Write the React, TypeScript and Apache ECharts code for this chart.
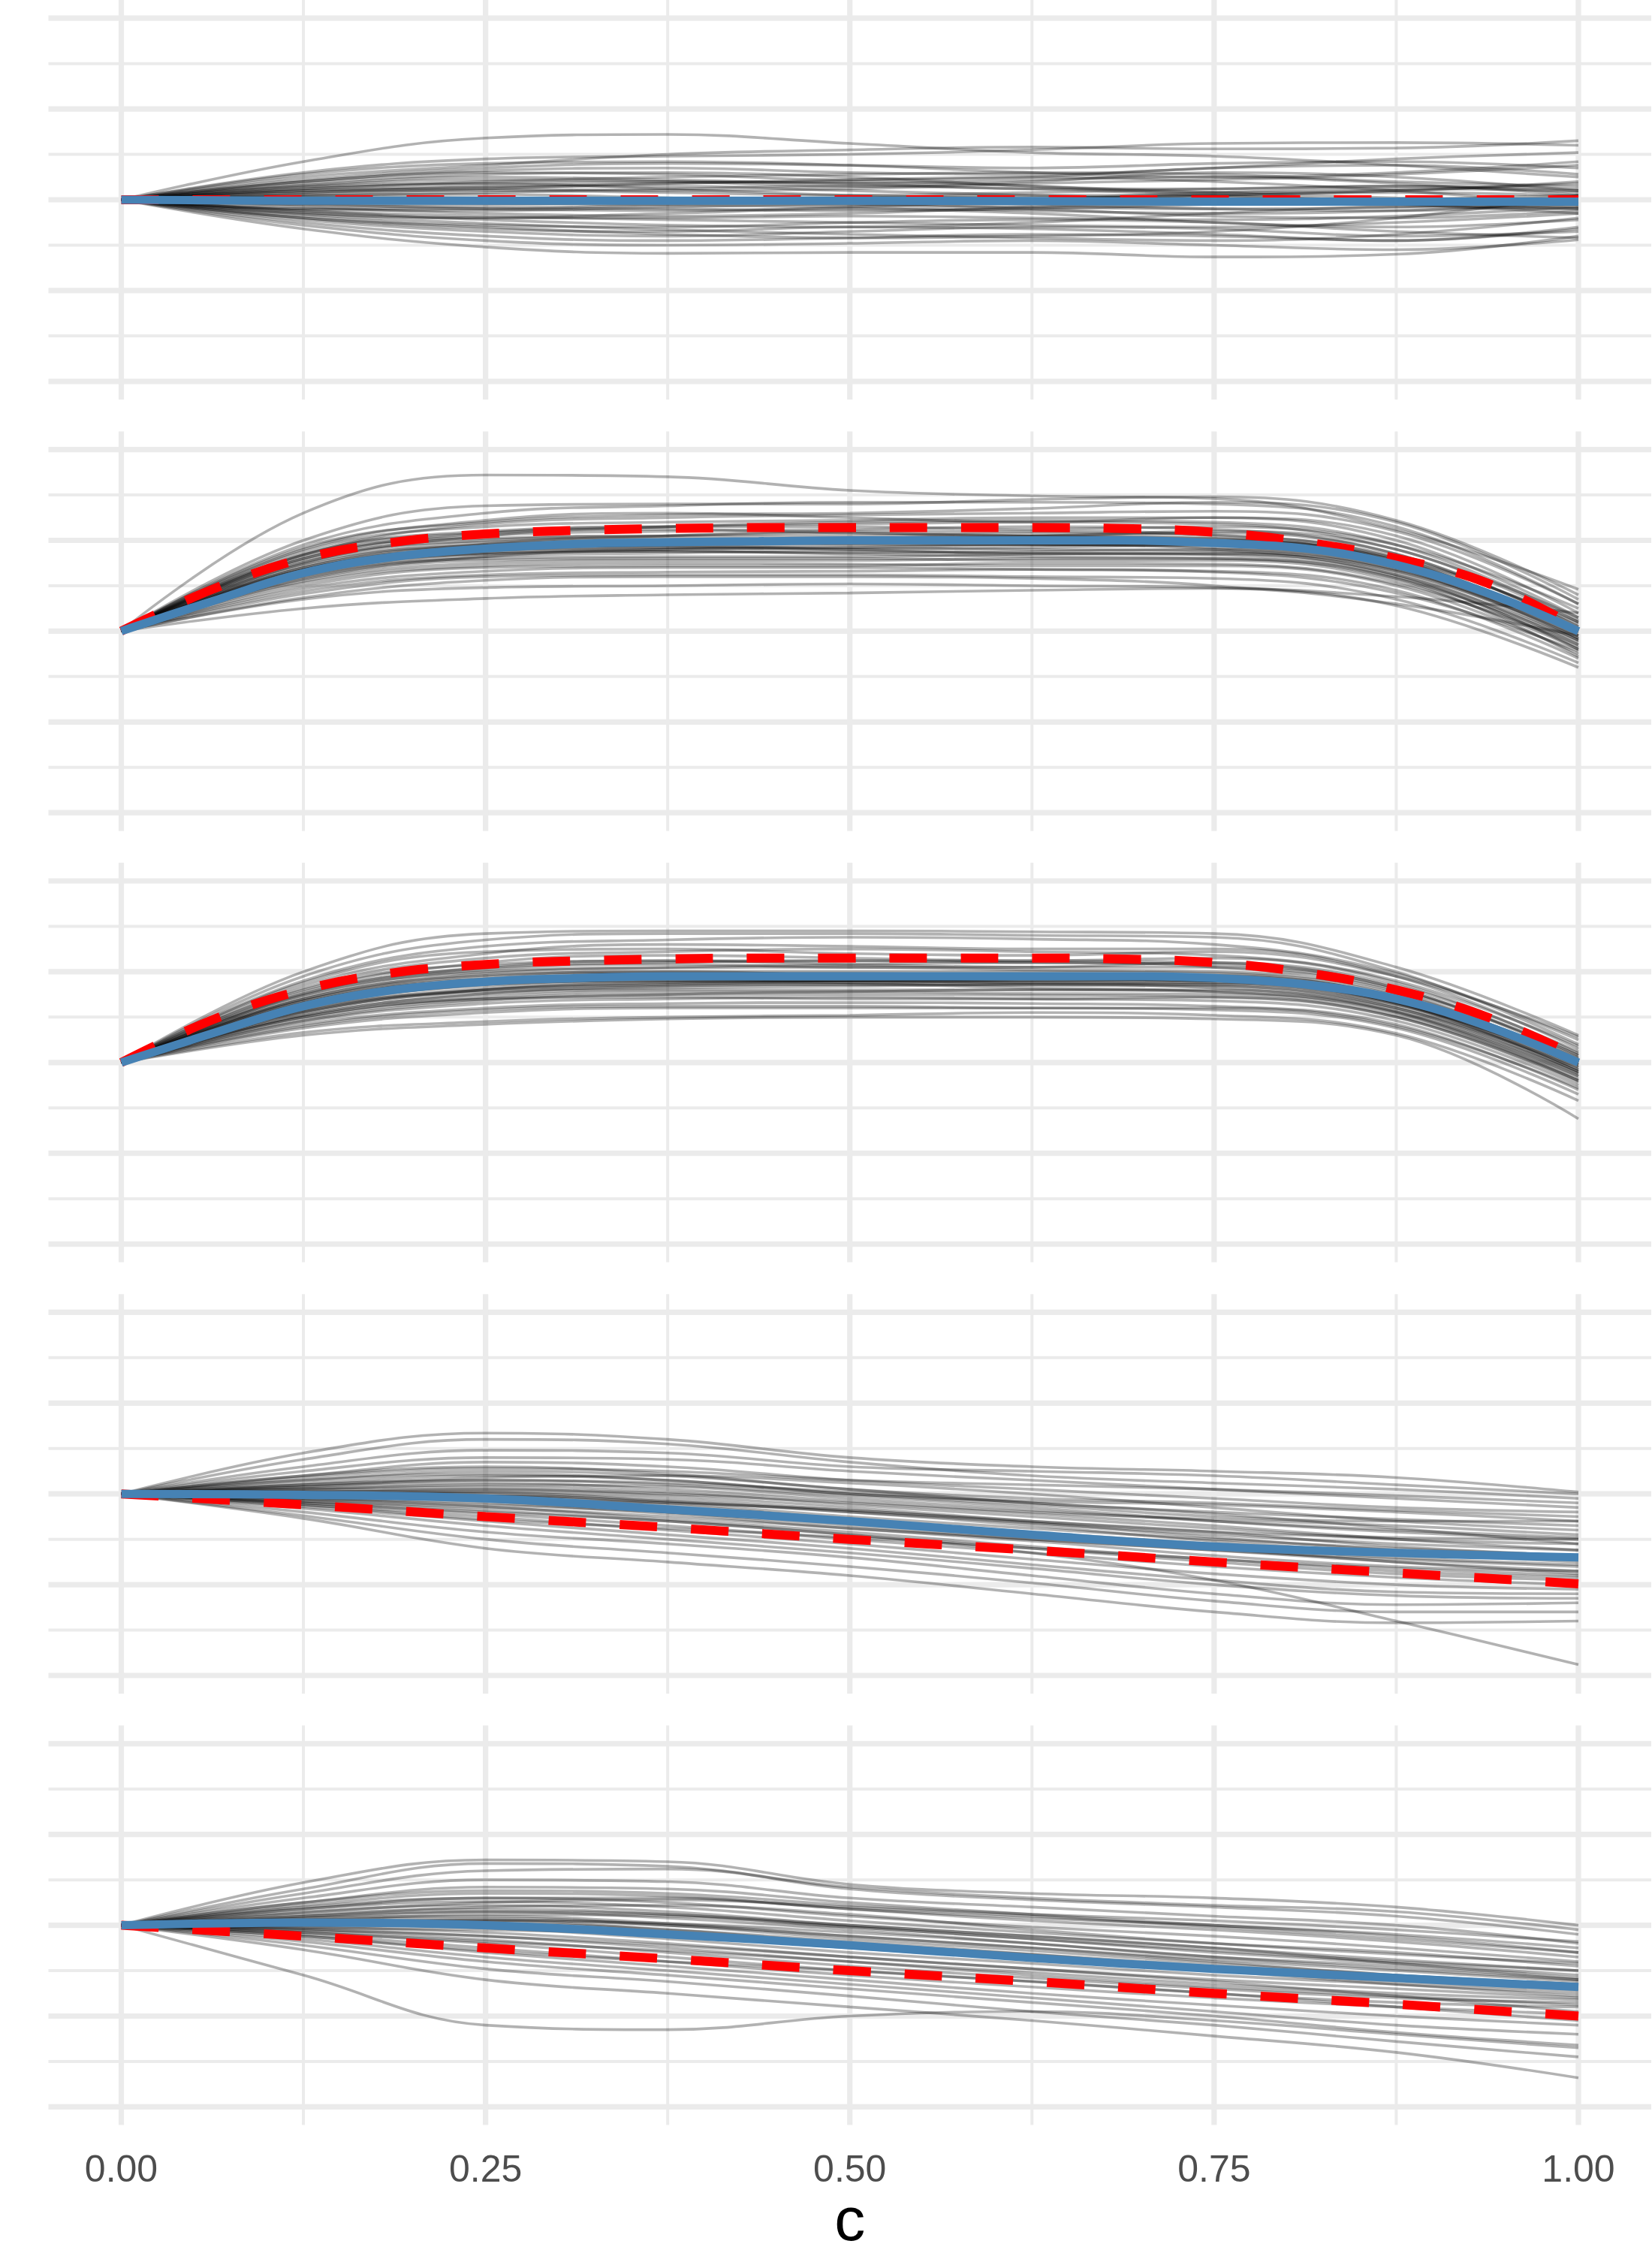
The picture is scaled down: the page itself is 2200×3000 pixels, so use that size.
import React, { useEffect, useRef } from "react";
import * as echarts from "echarts";

// x positions of sampled values
const xs9 = [0, 0.125, 0.25, 0.375, 0.5, 0.625, 0.75, 0.875, 1];
const xs17 = [0, 0.0625, 0.125, 0.1875, 0.25, 0.3125, 0.375, 0.4375, 0.5, 0.5625, 0.625, 0.6875, 0.75, 0.8125, 0.875, 0.9375, 1];

// gridline / tick positions
const xMajor = [0, 0.25, 0.5, 0.75, 1];
const xMinor = [0.125, 0.375, 0.625, 0.875];
const yMajor = [-2, -1, 0, 1, 2];
const yMinor = [-1.5, -0.5, 0.5, 1.5];
const xTickLabels = ["0.00", "0.25", "0.50", "0.75", "1.00"];
const xTitle = "c";

// ---------- panel 1 ----------
const p1Blue = [0, -0.01, -0.01, -0.01, -0.01, -0.015, -0.02, -0.02, -0.02];
const p1Red = [0, 0, 0, 0, 0, 0, 0, 0, 0];
const p1Gray = [
  [0, 0.42, 0.68, 0.72, 0.62, 0.52, 0.48, 0.38, 0.25],
  [0, -0.32, -0.52, -0.59, -0.58, -0.58, -0.63, -0.6, -0.4],
  [0, 0.3, 0.45, 0.48, 0.5, 0.55, 0.62, 0.63, 0.6],
  [0, 0.25, 0.38, 0.5, 0.55, 0.58, 0.56, 0.57, 0.65],
  [0, -0.28, -0.45, -0.5, -0.48, -0.45, -0.5, -0.55, -0.44],
  [0, 0.2, 0.32, 0.35, 0.3, 0.28, 0.35, 0.45, 0.52],
  [0, -0.2, -0.3, -0.38, -0.42, -0.4, -0.35, -0.2, 0.05],
  [0, 0.15, 0.22, 0.2, 0.15, 0.2, 0.3, 0.25, 0.1],
  [0, -0.15, -0.2, -0.15, -0.1, -0.15, -0.25, -0.3, -0.22],
  [0, 0.1, 0.15, 0.18, 0.22, 0.25, 0.2, 0.1, -0.05],
  [0, -0.1, -0.12, -0.08, -0.05, -0.1, -0.18, -0.2, -0.12],
  [0, 0.18, 0.28, 0.3, 0.25, 0.15, 0.08, 0.1, 0.2],
  [0, -0.22, -0.35, -0.4, -0.35, -0.3, -0.32, -0.4, -0.35],
  [0, 0.08, 0.1, 0.08, 0.05, 0.08, 0.12, 0.15, 0.12],
  [0, -0.06, -0.08, -0.1, -0.12, -0.1, -0.05, 0.0, 0.05],
  [0, 0.12, 0.2, 0.25, 0.28, 0.3, 0.28, 0.2, 0.15],
  [0, -0.12, -0.18, -0.22, -0.25, -0.28, -0.3, -0.25, -0.15],
  [0, 0.05, 0.06, 0.02, -0.02, 0.0, 0.05, 0.08, 0.04],
  [0, -0.04, -0.05, -0.02, 0.02, 0.05, 0.04, -0.02, -0.08],
  [0, 0.22, 0.35, 0.4, 0.38, 0.35, 0.4, 0.42, 0.35],
  [0, -0.18, -0.28, -0.3, -0.25, -0.22, -0.25, -0.35, -0.42],
  [0, 0.14, 0.18, 0.12, 0.05, 0.02, 0.05, 0.1, 0.18],
  [0, -0.14, -0.22, -0.28, -0.3, -0.25, -0.15, -0.08, -0.1],
  [0, 0.06, 0.12, 0.18, 0.2, 0.15, 0.08, 0.02, -0.02],
  [0, -0.08, -0.15, -0.18, -0.15, -0.08, -0.02, -0.05, -0.15],
  [0, 0.16, 0.25, 0.22, 0.18, 0.22, 0.25, 0.18, 0.05],
  [0, -0.25, -0.4, -0.45, -0.42, -0.38, -0.4, -0.45, -0.3],
  [0, 0.1, 0.12, 0.1, 0.12, 0.18, 0.22, 0.28, 0.38],
  [0, -0.1, -0.1, -0.05, -0.02, -0.05, -0.1, -0.12, -0.05],
  [0, 0.03, 0.02, -0.02, -0.05, -0.08, -0.1, -0.08, 0.0],
  [0, 0.28, 0.4, 0.42, 0.38, 0.3, 0.25, 0.3, 0.42],
  [0, -0.16, -0.26, -0.33, -0.38, -0.42, -0.45, -0.38, -0.2],
  [0, 0.08, 0.14, 0.15, 0.1, 0.05, 0.0, -0.05, -0.1],
  [0, -0.05, -0.1, -0.12, -0.08, 0.0, 0.08, 0.12, 0.1],
  [0, 0.12, 0.18, 0.2, 0.18, 0.12, 0.12, 0.15, 0.08],
  [0, -0.12, -0.2, -0.2, -0.18, -0.2, -0.22, -0.18, -0.08],
  [0, 0.2, 0.3, 0.28, 0.22, 0.25, 0.35, 0.38, 0.28],
  [0, -0.2, -0.32, -0.35, -0.3, -0.32, -0.38, -0.45, -0.32],
  [0, 0.04, 0.08, 0.12, 0.15, 0.12, 0.05, 0.0, 0.02],
  [0, -0.02, -0.04, -0.06, -0.08, -0.12, -0.15, -0.12, -0.02],
];

// ---------- panel 2 ----------
const p2Blue = [0, 0.33, 0.64, 0.82, 0.91, 0.96, 0.98, 0.99, 1.0, 1.0, 1.0, 1.0, 0.97, 0.91, 0.73, 0.42, 0.0];
const p2Red = [0, 0.46, 0.8, 0.98, 1.07, 1.11, 1.13, 1.14, 1.14, 1.14, 1.14, 1.13, 1.09, 0.98, 0.8, 0.53, 0.03];
const p2Gray = [
  [0, 1.3, 1.72, 1.7, 1.55, 1.49, 1.46, 1.12, 0.46],
  [0, 0.25, 0.36, 0.4, 0.42, 0.45, 0.47, 0.38, 0.2],
  [0, 0.35, 0.48, 0.5, 0.52, 0.5, 0.48, 0.3, -0.05],
  [0, 1.0, 1.38, 1.4, 1.4, 1.45, 1.48, 1.22, 0.4],
  [0, 0.95, 1.3, 1.38, 1.42, 1.42, 1.4, 1.15, 0.3],
  [0, 0.92, 1.2, 1.28, 1.3, 1.35, 1.42, 1.2, 0.35],
  [0, 0.9, 1.22, 1.3, 1.25, 1.2, 1.25, 1.05, 0.2],
  [0, 0.88, 1.15, 1.2, 1.22, 1.25, 1.25, 1.0, 0.15],
  [0, 0.85, 1.1, 1.15, 1.15, 1.12, 1.15, 0.95, 0.25],
  [0, 0.84, 1.08, 1.12, 1.08, 1.05, 1.1, 0.9, 0.1],
  [0, 0.82, 1.05, 1.1, 1.12, 1.15, 1.12, 0.85, 0.05],
  [0, 0.8, 1.02, 1.05, 1.05, 1.08, 1.05, 0.82, 0.08],
  [0, 0.78, 1.0, 1.05, 1.08, 1.05, 1.02, 0.78, 0.0],
  [0, 0.76, 0.98, 1.02, 1.02, 1.0, 1.0, 0.78, 0.02],
  [0, 0.74, 0.95, 1.0, 1.02, 1.04, 1.02, 0.76, -0.05],
  [0, 0.72, 0.95, 0.98, 0.96, 0.95, 0.98, 0.8, 0.1],
  [0, 0.7, 0.92, 0.96, 0.98, 1.0, 0.96, 0.7, -0.08],
  [0, 0.68, 0.9, 0.95, 0.98, 0.96, 0.92, 0.68, -0.1],
  [0, 0.68, 0.9, 0.92, 0.9, 0.92, 0.95, 0.72, 0.0],
  [0, 0.66, 0.88, 0.92, 0.95, 0.95, 0.9, 0.65, -0.15],
  [0, 0.65, 0.86, 0.9, 0.92, 0.9, 0.88, 0.66, -0.05],
  [0, 0.63, 0.85, 0.88, 0.86, 0.88, 0.9, 0.68, -0.02],
  [0, 0.61, 0.82, 0.86, 0.88, 0.86, 0.84, 0.6, -0.18],
  [0, 0.6, 0.8, 0.82, 0.82, 0.85, 0.86, 0.62, -0.1],
  [0, 0.57, 0.78, 0.8, 0.8, 0.78, 0.78, 0.55, -0.2],
  [0, 0.55, 0.75, 0.78, 0.78, 0.8, 0.8, 0.58, -0.12],
  [0, 0.53, 0.72, 0.75, 0.74, 0.72, 0.72, 0.5, -0.25],
  [0, 0.5, 0.7, 0.72, 0.72, 0.75, 0.74, 0.52, -0.15],
  [0, 0.47, 0.66, 0.7, 0.7, 0.68, 0.66, 0.45, -0.3],
  [0, 0.44, 0.62, 0.65, 0.66, 0.68, 0.65, 0.42, -0.22],
  [0, 0.41, 0.6, 0.62, 0.62, 0.6, 0.58, 0.35, -0.35],
  [0, 0.37, 0.56, 0.6, 0.6, 0.58, 0.5, 0.28, -0.4],
  [0, 0.84, 1.18, 1.25, 1.28, 1.3, 1.32, 1.1, 0.3],
  [0, 0.75, 1.05, 1.15, 1.2, 1.22, 1.2, 0.95, 0.12],
  [0, 0.64, 0.9, 0.98, 1.02, 1.05, 1.08, 0.85, 0.05],
  [0, 0.58, 0.82, 0.9, 0.92, 0.95, 0.95, 0.72, -0.08],
  [0, 0.7, 0.96, 1.05, 1.1, 1.1, 1.06, 0.8, 0.0],
  [0, 0.66, 0.9, 0.94, 0.9, 0.85, 0.85, 0.62, -0.2],
  [0, 0.8, 1.08, 1.15, 1.18, 1.2, 1.18, 0.9, 0.15],
  [0, 0.62, 0.85, 0.88, 0.85, 0.82, 0.8, 0.58, -0.28],
];

// ---------- panel 3 ----------
const p3Blue = [0, 0.32, 0.62, 0.8, 0.89, 0.93, 0.95, 0.95, 0.95, 0.95, 0.95, 0.95, 0.93, 0.86, 0.7, 0.4, 0.0];
const p3Red = [0, 0.47, 0.8, 0.99, 1.08, 1.12, 1.14, 1.15, 1.15, 1.15, 1.15, 1.14, 1.1, 0.99, 0.8, 0.5, 0.06];
const p3Gray = [
  [0, 1.0, 1.42, 1.45, 1.45, 1.44, 1.42, 1.05, 0.3],
  [0, 0.95, 1.35, 1.42, 1.42, 1.4, 1.38, 1.0, 0.2],
  [0, 0.9, 1.28, 1.35, 1.38, 1.36, 1.3, 0.98, 0.25],
  [0, 0.85, 1.2, 1.3, 1.28, 1.25, 1.25, 0.95, 0.15],
  [0, 0.82, 1.15, 1.22, 1.25, 1.22, 1.18, 0.9, 0.18],
  [0, 0.78, 1.1, 1.18, 1.15, 1.12, 1.15, 0.88, 0.1],
  [0, 0.75, 1.05, 1.12, 1.12, 1.1, 1.08, 0.82, 0.05],
  [0, 0.72, 1.02, 1.08, 1.05, 1.05, 1.05, 0.8, 0.08],
  [0, 0.7, 0.98, 1.04, 1.05, 1.02, 1.0, 0.76, 0.02],
  [0, 0.68, 0.95, 1.0, 1.0, 1.0, 0.98, 0.74, 0.0],
  [0, 0.66, 0.92, 0.98, 0.98, 0.96, 0.95, 0.72, -0.02],
  [0, 0.64, 0.9, 0.96, 0.95, 0.95, 0.94, 0.7, 0.02],
  [0, 0.62, 0.88, 0.94, 0.95, 0.94, 0.92, 0.68, -0.05],
  [0, 0.6, 0.86, 0.92, 0.92, 0.92, 0.9, 0.66, -0.03],
  [0, 0.6, 0.85, 0.9, 0.9, 0.88, 0.88, 0.65, -0.08],
  [0, 0.58, 0.82, 0.88, 0.88, 0.9, 0.88, 0.62, -0.1],
  [0, 0.56, 0.8, 0.85, 0.86, 0.85, 0.84, 0.6, -0.05],
  [0, 0.55, 0.78, 0.82, 0.84, 0.86, 0.82, 0.58, -0.12],
  [0, 0.52, 0.75, 0.8, 0.8, 0.8, 0.78, 0.55, -0.15],
  [0, 0.5, 0.72, 0.78, 0.78, 0.76, 0.75, 0.52, -0.18],
  [0, 0.48, 0.7, 0.75, 0.75, 0.74, 0.72, 0.5, -0.2],
  [0, 0.45, 0.65, 0.7, 0.72, 0.7, 0.68, 0.46, -0.25],
  [0, 0.42, 0.6, 0.65, 0.66, 0.65, 0.62, 0.42, -0.3],
  [0, 0.38, 0.55, 0.6, 0.6, 0.6, 0.58, 0.38, -0.35],
  [0, 0.33, 0.45, 0.5, 0.52, 0.55, 0.52, 0.32, -0.42],
  [0, 0.3, 0.42, 0.48, 0.5, 0.5, 0.48, 0.3, -0.62],
  [0, 0.88, 1.22, 1.25, 1.2, 1.18, 1.22, 0.95, 0.28],
  [0, 0.8, 1.08, 1.12, 1.08, 1.05, 1.1, 0.85, 0.12],
  [0, 0.74, 1.0, 1.05, 1.08, 1.1, 1.05, 0.78, 0.0],
  [0, 0.65, 0.9, 0.92, 0.9, 0.92, 0.96, 0.72, 0.05],
  [0, 0.58, 0.8, 0.86, 0.9, 0.92, 0.9, 0.65, -0.1],
  [0, 0.52, 0.76, 0.84, 0.86, 0.82, 0.78, 0.55, -0.2],
  [0, 0.46, 0.68, 0.75, 0.78, 0.8, 0.8, 0.56, -0.15],
  [0, 0.7, 0.96, 1.0, 0.96, 0.92, 0.9, 0.66, -0.08],
  [0, 0.62, 0.86, 0.9, 0.88, 0.86, 0.86, 0.64, 0.0],
  [0, 0.55, 0.8, 0.88, 0.9, 0.88, 0.85, 0.6, -0.12],
  [0, 0.68, 0.92, 0.95, 0.92, 0.9, 0.92, 0.7, -0.02],
  [0, 0.5, 0.7, 0.72, 0.7, 0.7, 0.72, 0.5, -0.22],
  [0, 0.76, 1.04, 1.1, 1.12, 1.12, 1.1, 0.82, 0.08],
  [0, 0.4, 0.58, 0.62, 0.62, 0.6, 0.6, 0.4, -0.28],
];

// ---------- panel 4 ----------
const p4Blue = [0, -0.01, -0.05, -0.17, -0.3, -0.45, -0.58, -0.65, -0.7];
const p4Red = [0, -0.12, -0.25, -0.37, -0.5, -0.62, -0.75, -0.87, -0.99];
const p4Gray = [
  [0, 0.45, 0.67, 0.6, 0.4, 0.3, 0.25, 0.18, 0.02],
  [0, 0.38, 0.6, 0.55, 0.35, 0.2, 0.12, 0.05, -0.05],
  [0, 0.3, 0.48, 0.45, 0.3, 0.25, 0.2, 0.1, 0.0],
  [0, 0.25, 0.4, 0.38, 0.25, 0.15, 0.05, -0.05, -0.15],
  [0, 0.2, 0.35, 0.3, 0.15, 0.05, -0.05, -0.15, -0.2],
  [0, 0.18, 0.28, 0.25, 0.15, 0.1, 0.05, -0.02, -0.1],
  [0, 0.15, 0.25, 0.2, 0.05, -0.1, -0.2, -0.28, -0.35],
  [0, 0.12, 0.2, 0.15, 0.0, -0.12, -0.25, -0.3, -0.3],
  [0, 0.1, 0.15, 0.1, -0.02, -0.15, -0.3, -0.42, -0.5],
  [0, 0.08, 0.12, 0.05, -0.08, -0.2, -0.28, -0.35, -0.45],
  [0, 0.06, 0.08, 0.02, -0.12, -0.25, -0.38, -0.5, -0.55],
  [0, 0.05, 0.05, -0.02, -0.15, -0.3, -0.42, -0.48, -0.5],
  [0, 0.03, 0.02, -0.08, -0.2, -0.32, -0.45, -0.55, -0.62],
  [0, 0.02, 0.0, -0.1, -0.25, -0.38, -0.5, -0.6, -0.68],
  [0, 0.0, -0.02, -0.12, -0.28, -0.42, -0.55, -0.65, -0.7],
  [0, -0.02, -0.05, -0.15, -0.3, -0.45, -0.58, -0.7, -0.78],
  [0, -0.03, -0.08, -0.2, -0.35, -0.5, -0.62, -0.72, -0.8],
  [0, -0.05, -0.1, -0.22, -0.38, -0.52, -0.68, -0.8, -0.85],
  [0, -0.06, -0.14, -0.28, -0.42, -0.58, -0.72, -0.82, -0.9],
  [0, -0.08, -0.18, -0.3, -0.45, -0.6, -0.75, -0.88, -0.95],
  [0, -0.1, -0.22, -0.35, -0.5, -0.65, -0.8, -0.92, -1.0],
  [0, -0.12, -0.25, -0.4, -0.55, -0.72, -0.88, -1.0, -1.05],
  [0, -0.14, -0.3, -0.45, -0.6, -0.78, -0.95, -1.08, -1.1],
  [0, -0.16, -0.35, -0.5, -0.65, -0.82, -1.0, -1.12, -1.15],
  [0, -0.2, -0.42, -0.55, -0.7, -0.9, -1.1, -1.22, -1.2],
  [0, -0.24, -0.5, -0.65, -0.8, -0.98, -1.18, -1.3, -1.3],
  [0, -0.27, -0.6, -0.75, -0.9, -1.1, -1.3, -1.42, -1.4],
  [0, -0.1, -0.2, -0.3, -0.45, -0.65, -0.95, -1.4, -1.88],
  [0, 0.1, 0.18, 0.2, 0.12, 0.0, -0.15, -0.3, -0.4],
  [0, 0.05, 0.1, 0.08, -0.05, -0.18, -0.3, -0.4, -0.48],
  [0, -0.04, -0.06, -0.1, -0.18, -0.32, -0.48, -0.62, -0.72],
  [0, 0.02, 0.05, 0.0, -0.1, -0.22, -0.35, -0.5, -0.62],
  [0, -0.08, -0.15, -0.25, -0.38, -0.5, -0.62, -0.75, -0.85],
  [0, 0.15, 0.22, 0.15, 0.0, -0.08, -0.12, -0.2, -0.3],
  [0, -0.02, -0.02, -0.08, -0.2, -0.35, -0.52, -0.65, -0.75],
  [0, 0.08, 0.15, 0.12, 0.02, -0.1, -0.22, -0.38, -0.55],
  [0, -0.12, -0.28, -0.38, -0.48, -0.6, -0.72, -0.85, -0.92],
  [0, 0.2, 0.3, 0.22, 0.05, -0.05, -0.1, -0.18, -0.25],
  [0, -0.05, -0.12, -0.2, -0.32, -0.45, -0.6, -0.75, -0.88],
  [0, 0.0, 0.02, -0.05, -0.18, -0.3, -0.42, -0.58, -0.68],
];

// ---------- panel 5 ----------
const p5Blue = [0, 0.03, 0.0, -0.1, -0.22, -0.36, -0.48, -0.58, -0.68];
const p5Red = [0, -0.12, -0.25, -0.37, -0.5, -0.62, -0.75, -0.87, -1.0];
const p5Gray = [
  [0, 0.47, 0.72, 0.7, 0.45, 0.35, 0.3, 0.2, 0.0],
  [0, 0.4, 0.68, 0.65, 0.4, 0.28, 0.2, 0.1, -0.1],
  [0, 0.35, 0.6, 0.62, 0.42, 0.3, 0.22, 0.15, -0.05],
  [0, 0.3, 0.5, 0.48, 0.3, 0.2, 0.1, 0.0, -0.2],
  [0, 0.25, 0.42, 0.4, 0.25, 0.12, 0.0, -0.1, -0.25],
  [0, 0.22, 0.35, 0.32, 0.18, 0.05, -0.05, -0.18, -0.35],
  [0, 0.2, 0.3, 0.25, 0.1, -0.02, -0.12, -0.25, -0.4],
  [0, 0.18, 0.26, 0.2, 0.05, -0.08, -0.2, -0.3, -0.45],
  [0, 0.15, 0.22, 0.15, 0.0, -0.12, -0.25, -0.38, -0.5],
  [0, 0.12, 0.18, 0.12, -0.02, -0.15, -0.3, -0.42, -0.55],
  [0, 0.1, 0.15, 0.08, -0.05, -0.2, -0.35, -0.45, -0.6],
  [0, 0.08, 0.1, 0.02, -0.12, -0.25, -0.38, -0.5, -0.62],
  [0, 0.06, 0.08, 0.0, -0.15, -0.28, -0.42, -0.55, -0.65],
  [0, 0.04, 0.05, -0.05, -0.2, -0.32, -0.45, -0.58, -0.7],
  [0, 0.02, 0.0, -0.1, -0.25, -0.38, -0.5, -0.62, -0.72],
  [0, 0.0, -0.03, -0.15, -0.3, -0.42, -0.55, -0.65, -0.75],
  [0, -0.02, -0.08, -0.2, -0.35, -0.48, -0.6, -0.7, -0.8],
  [0, -0.04, -0.12, -0.25, -0.4, -0.52, -0.65, -0.75, -0.82],
  [0, -0.06, -0.16, -0.3, -0.45, -0.58, -0.7, -0.8, -0.85],
  [0, -0.08, -0.2, -0.35, -0.5, -0.62, -0.75, -0.85, -0.9],
  [0, -0.1, -0.25, -0.4, -0.55, -0.68, -0.8, -0.9, -0.98],
  [0, -0.12, -0.3, -0.45, -0.6, -0.75, -0.88, -1.0, -1.1],
  [0, -0.15, -0.35, -0.5, -0.65, -0.8, -0.95, -1.1, -1.2],
  [0, -0.18, -0.4, -0.55, -0.7, -0.85, -1.0, -1.18, -1.32],
  [0, -0.22, -0.48, -0.62, -0.78, -0.95, -1.1, -1.28, -1.45],
  [0, -0.27, -0.6, -0.75, -0.9, -1.05, -1.22, -1.4, -1.68],
  [0, -0.55, -1.1, -1.15, -1.0, -0.95, -1.05, -1.2, -1.35],
  [0, 0.14, 0.25, 0.28, 0.2, 0.1, -0.02, -0.15, -0.3],
  [0, 0.1, 0.2, 0.22, 0.12, -0.05, -0.2, -0.32, -0.42],
  [0, 0.05, 0.12, 0.1, -0.02, -0.15, -0.28, -0.4, -0.5],
  [0, -0.03, -0.05, -0.1, -0.2, -0.35, -0.5, -0.65, -0.78],
  [0, 0.02, 0.05, 0.02, -0.08, -0.2, -0.35, -0.48, -0.6],
  [0, -0.08, -0.18, -0.28, -0.4, -0.55, -0.68, -0.78, -0.88],
  [0, 0.18, 0.3, 0.3, 0.18, 0.08, 0.0, -0.12, -0.3],
  [0, 0.0, 0.02, -0.05, -0.18, -0.32, -0.48, -0.6, -0.68],
  [0, 0.08, 0.15, 0.12, 0.0, -0.12, -0.25, -0.42, -0.58],
  [0, -0.12, -0.28, -0.4, -0.5, -0.62, -0.75, -0.9, -1.05],
  [0, 0.25, 0.38, 0.35, 0.22, 0.12, 0.05, -0.05, -0.18],
  [0, -0.05, -0.12, -0.22, -0.35, -0.48, -0.62, -0.78, -0.95],
  [0, 0.03, 0.06, 0.0, -0.12, -0.25, -0.4, -0.55, -0.65],
];

const panels = [
  { gray: p1Gray, blue: p1Blue, red: p1Red },
  { gray: p2Gray, blue: p2Blue, red: p2Red },
  { gray: p3Gray, blue: p3Blue, red: p3Red },
  { gray: p4Gray, blue: p4Blue, red: p4Red },
  { gray: p5Gray, blue: p5Blue, red: p5Red },
];

const X_MIN = -0.05;
const X_MAX = 1.05;
const Y_MIN = -2.2;
const Y_MAX = 2.2;

function pair(vals: number[]) {
  const xs = vals.length === 17 ? xs17 : xs9;
  return vals.map((v, k) => [xs[k], v]);
}

export default function App() {
  const ref = useRef<HTMLDivElement>(null);
  useEffect(() => {
    document.body.style.margin = "0";
    if (!ref.current) return;
    const chart = echarts.init(ref.current, undefined, { renderer: "svg" });

    const PANEL_LEFT = 64.5;
    const PANEL_W = 2134.5;
    const PANEL_H = 532;
    const PERIOD = 574.4;

    const grids: any[] = [];
    const xAxes: any[] = [];
    const yAxes: any[] = [];
    const series: any[] = [];

    panels.forEach((p, i) => {
      const last = i === panels.length - 1;
      grids.push({ left: PANEL_LEFT, top: i * PERIOD, width: PANEL_W, height: PANEL_H, containLabel: false });
      xAxes.push({
        type: "value",
        gridIndex: i,
        min: X_MIN,
        max: X_MAX,
        axisLine: { show: false },
        axisTick: { show: false },
        splitLine: { show: false },
        axisLabel: last
          ? {
              show: true,
              customValues: xMajor,
              formatter: (v: number) => {
                const idx = xMajor.findIndex((m) => Math.abs(m - v) < 1e-9);
                return idx >= 0 ? xTickLabels[idx] : "";
              },
              fontSize: 50,
              color: "#4D4D4D",
              fontFamily: "Liberation Sans",
              margin: 33,
            }
          : { show: false },
        name: last ? xTitle : "",
        nameLocation: "middle",
        nameGap: 84,
        nameTextStyle: { fontSize: 82, lineHeight: 82, color: "#000000", fontFamily: "Liberation Sans" },
      });
      yAxes.push({
        type: "value",
        gridIndex: i,
        min: Y_MIN,
        max: Y_MAX,
        show: false,
        splitLine: { show: false },
      });

      const ax = { xAxisIndex: i, yAxisIndex: i };
      const gridBase = { type: "line", ...ax, symbol: "none", silent: true, animation: false, z: 1 };
      // minor grid lines
      yMinor.forEach((v) =>
        series.push({ ...gridBase, data: [[X_MIN, v], [X_MAX, v]], lineStyle: { color: "#EBEBEB", width: 4 } })
      );
      xMinor.forEach((v) =>
        series.push({ ...gridBase, data: [[v, Y_MIN], [v, Y_MAX]], lineStyle: { color: "#EBEBEB", width: 4 } })
      );
      // major grid lines
      yMajor.forEach((v) =>
        series.push({ ...gridBase, data: [[X_MIN, v], [X_MAX, v]], lineStyle: { color: "#EBEBEB", width: 7.2 } })
      );
      xMajor.forEach((v) =>
        series.push({ ...gridBase, data: [[v, Y_MIN], [v, Y_MAX]], lineStyle: { color: "#EBEBEB", width: 7.2 } })
      );

      p.gray.forEach((g) =>
        series.push({
          type: "line",
          ...ax,
          data: pair(g),
          smooth: 0.4,
          symbol: "none",
          silent: true,
          z: 2,
          lineStyle: { color: "rgba(0,0,0,0.3)", width: 3.6 },
        })
      );
      series.push({
        type: "line",
        ...ax,
        data: pair(p.red),
        smooth: 0.4,
        symbol: "none",
        silent: true,
        z: 3,
        lineStyle: { color: "#FF0000", width: 12, type: [50, 45], cap: "butt" },
      });
      series.push({
        type: "line",
        ...ax,
        data: pair(p.blue),
        smooth: 0.4,
        symbol: "none",
        silent: true,
        z: 4,
        lineStyle: { color: "#4682B4", width: 11, cap: "butt" },
      });
    });

    chart.setOption({
      animation: false,
      backgroundColor: "#FFFFFF",
      grid: grids,
      xAxis: xAxes,
      yAxis: yAxes,
      series,
    });
    return () => chart.dispose();
  }, []);
  return <div ref={ref} style={{ width: 2200, height: 3000 }} />;
}
